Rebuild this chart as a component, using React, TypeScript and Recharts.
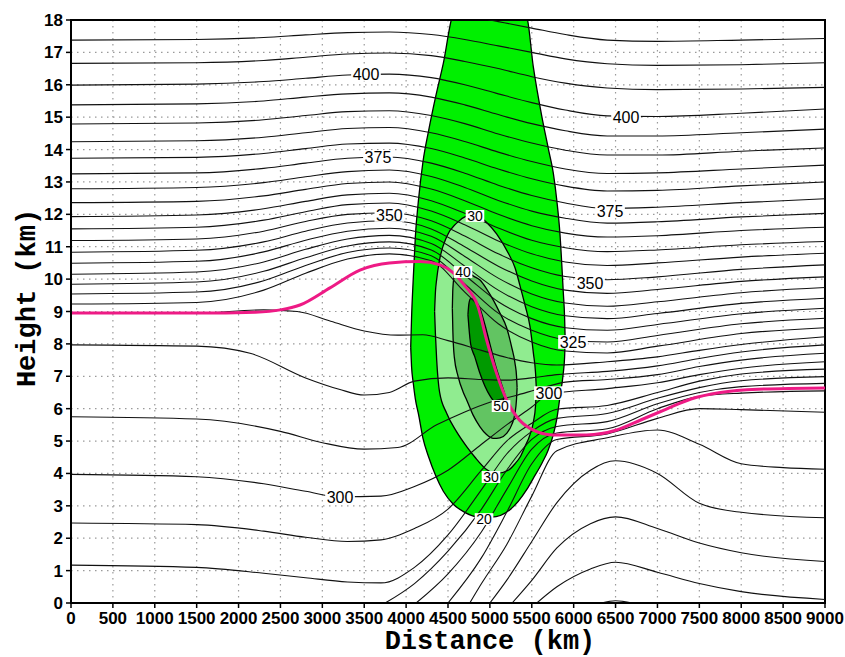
import React from 'react';
import { ComposedChart, Line, Area, Scatter, XAxis, YAxis, CartesianGrid, ReferenceArea } from 'recharts';

const X_TICKS = [0, 500, 1000, 1500, 2000, 2500, 3000, 3500, 4000, 4500, 5000, 5500, 6000, 6500, 7000, 7500, 8000, 8500, 9000];
const Y_TICKS = [0, 1, 2, 3, 4, 5, 6, 7, 8, 9, 10, 11, 12, 13, 14, 15, 16, 17, 18];

// stratospheric isentropes sampled on a common distance grid (km)
const STRAT_X = [0, 1500, 2300, 2800, 3300, 3800, 4300, 4700, 5100, 5500, 5900, 6400, 7000, 8000, 9000];
const th415 = [18.1, 18.12, 18.2, 18.28, 18.35, 18.38, 18.3, 18.15, 17.95, 17.75, 17.55, 17.38, 17.34, 17.38, 17.43];
const th410 = [17.38, 17.4, 17.46, 17.54, 17.61, 17.63, 17.55, 17.4, 17.2, 17.0, 16.8, 16.65, 16.6, 16.62, 16.68];
const th405 = [16.66, 16.68, 16.75, 16.85, 16.95, 16.98, 16.9, 16.72, 16.5, 16.25, 16.05, 15.9, 15.85, 15.87, 15.92];
const th400 = [15.99, 16.02, 16.1, 16.2, 16.3, 16.33, 16.22, 16.0, 15.72, 15.45, 15.22, 15.04, 15.02, 15.12, 15.25];
const th395 = [15.38, 15.41, 15.5, 15.62, 15.72, 15.75, 15.62, 15.38, 15.08, 14.8, 14.58, 14.42, 14.42, 14.52, 14.63];
const th390 = [14.79, 14.82, 14.92, 15.05, 15.17, 15.2, 15.05, 14.8, 14.48, 14.2, 13.98, 13.83, 13.83, 13.95, 14.05];
const th385 = [14.24, 14.27, 14.38, 14.52, 14.65, 14.68, 14.52, 14.25, 13.92, 13.63, 13.4, 13.26, 13.28, 13.4, 13.52];
const th380 = [13.73, 13.76, 13.88, 14.03, 14.17, 14.2, 14.03, 13.74, 13.4, 13.1, 12.87, 12.72, 12.74, 12.88, 13.0];
const th375 = [13.25, 13.28, 13.42, 13.58, 13.73, 13.77, 13.58, 13.27, 12.9, 12.58, 12.35, 12.18, 12.22, 12.36, 12.48];
const th370 = [12.79, 12.83, 12.98, 13.16, 13.32, 13.37, 13.17, 12.83, 12.43, 12.1, 11.88, 11.73, 11.77, 11.92, 12.03];
const th365 = [12.36, 12.4, 12.57, 12.77, 12.95, 13.0, 12.78, 12.42, 12.0, 11.65, 11.42, 11.3, 11.34, 11.5, 11.6];
const th360 = [11.93, 11.98, 12.17, 12.4, 12.6, 12.65, 12.42, 12.03, 11.58, 11.2, 10.97, 10.85, 10.9, 11.06, 11.16];
const th355 = [11.55, 11.6, 11.82, 12.08, 12.3, 12.35, 12.1, 11.68, 11.18, 10.78, 10.53, 10.42, 10.5, 10.68, 10.8];
const th350 = [11.19, 11.24, 11.48, 11.78, 12.0, 12.05, 11.8, 11.33, 10.78, 10.35, 10.08, 9.98, 10.07, 10.3, 10.44];
const th345 = [10.83, 10.89, 11.15, 11.48, 11.73, 11.8, 11.55, 11.0, 10.4, 9.94, 9.66, 9.56, 9.68, 9.93, 10.07];
const th340 = [10.49, 10.55, 10.84, 11.2, 11.48, 11.57, 11.32, 10.7, 10.03, 9.54, 9.26, 9.16, 9.3, 9.58, 9.74];
const th335 = [10.15, 10.22, 10.53, 10.92, 11.24, 11.35, 11.1, 10.4, 9.66, 9.15, 8.87, 8.78, 8.94, 9.25, 9.41];
const th330 = [9.84, 9.91, 10.24, 10.66, 11.02, 11.15, 10.9, 10.12, 9.3, 8.78, 8.5, 8.42, 8.6, 8.93, 9.1];
const th325 = [9.54, 9.6, 9.95, 10.42, 10.82, 10.96, 10.72, 9.85, 8.95, 8.42, 8.13, 8.06, 8.26, 8.62, 8.79];
const th320 = [9.23, 9.28, 9.66, 10.18, 10.62, 10.78, 10.57, 9.6, 8.62, 8.06, 7.78, 7.72, 7.93, 8.32, 8.5];

// tropospheric isentropes: [distance km, height km]
const th315 = [[0, 8.94], [1500, 8.95], [2300, 9.05], [2700, 9.0], [3100, 8.7], [3500, 8.4], [3900, 8.27], [4200, 8.28], [4500, 8.1], [4900, 7.8], [5200, 7.58], [5500, 7.42], [5800, 7.35], [6400, 7.45], [7000, 7.6], [7500, 7.8], [8000, 7.98], [9000, 8.22]];
const th310 = [[0, 7.97], [1500, 7.93], [2137, 7.71], [2800, 6.95], [3200, 6.6], [3500, 6.42], [3800, 6.5], [4100, 6.85], [4500, 6.95], [4900, 6.9], [5200, 6.88], [5500, 6.95], [5800, 7.05], [6400, 7.15], [7000, 7.32], [7500, 7.55], [8000, 7.75], [9000, 7.97]];
const th305 = [[0, 5.75], [1500, 5.68], [2500, 5.3], [3000, 4.95], [3500, 4.75], [3900, 4.8], [4365, 5.5], [4700, 5.9], [5000, 6.2], [5300, 6.4], [5600, 6.62], [5900, 6.82], [6400, 6.9], [7000, 7.05], [7500, 7.3], [8000, 7.5], [9000, 7.71]];
const th300 = [[0, 3.97], [1500, 3.9], [2300, 3.68], [2800, 3.45], [3200, 3.28], [3700, 3.3], [4100, 3.6], [4500, 4.1], [4900, 4.9], [5200, 5.5], [5500, 6.05], [5705, 6.45], [6400, 6.62], [7000, 6.8], [7500, 7.05], [8000, 7.25], [9000, 7.45]];
const th295 = [[0, 2.47], [1500, 2.42], [2300, 2.22], [2800, 2.03], [3300, 1.9], [3700, 1.95], [4100, 2.3], [4500, 2.9], [4900, 4.1], [5200, 5.0], [5500, 5.55], [5800, 5.98], [6400, 6.1], [7000, 6.5], [7500, 6.85], [8000, 7.07], [9000, 7.22]];
const th290 = [[0, 1.17], [1500, 1.1], [2300, 0.92], [2800, 0.78], [3300, 0.65], [3700, 0.62], [4100, 1.1], [4500, 2.1], [4900, 3.5], [5200, 4.6], [5500, 5.3], [5800, 5.7], [6400, 5.85], [7000, 6.32], [7500, 6.65], [8000, 6.86], [9000, 6.99]];
const th285 = [[3750, 0], [4100, 0.6], [4500, 1.6], [4900, 2.9], [5200, 4.1], [5500, 5.05], [5800, 5.45], [6400, 5.6], [7000, 6.15], [7500, 6.5], [8000, 6.68], [9000, 6.78]];
const th280 = [[4120, 0], [4500, 0.9], [4900, 2.2], [5200, 3.5], [5500, 4.75], [5800, 5.25], [6400, 5.38], [7000, 6.0], [7500, 6.38], [8000, 6.48], [9000, 6.55]];
const th275 = [[4500, 0], [4900, 1.4], [5200, 2.8], [5500, 4.3], [5800, 5.05], [6400, 5.22], [7000, 5.7], [7500, 6.0], [8000, 5.97], [9000, 5.89]];
const th270 = [[4760, 0], [4900, 0.6], [5200, 1.8], [5500, 3.3], [5800, 4.7], [6400, 5.1], [7000, 5.34], [7500, 4.9], [8000, 4.3], [8500, 4.18], [9000, 4.13]];
const th265 = [[5000, 0], [5200, 0.7], [5500, 1.9], [5800, 3.1], [6200, 4.1], [6500, 4.39], [7000, 4.0], [7500, 3.08], [8000, 2.8], [9000, 2.63]];
const th260 = [[5265, 0], [5500, 0.7], [5800, 1.7], [6200, 2.45], [6500, 2.66], [7000, 2.3], [7500, 1.85], [8000, 1.55], [9000, 1.28]];
const th255 = [[5560, 0], [5800, 0.5], [6200, 1.05], [6500, 1.26], [7000, 0.95], [7500, 0.6], [8000, 0.35], [9000, 0.11]];
const th250 = [[6330, 0], [6500, 0.07], [6700, 0]];

// dynamic tropopause (magenta)
const tropopause = [[0, 8.95], [1500, 8.95], [2200, 8.98], [2500, 9.05], [2733, 9.2], [3091, 9.73], [3449, 10.28], [3800, 10.5], [4166, 10.54], [4404, 10.44], [4560, 10.2], [4700, 9.8], [4858, 9.15], [4961, 8.12], [5080, 7.09], [5200, 6.27], [5320, 5.75], [5479, 5.39], [5753, 5.19], [6155, 5.19], [6514, 5.34], [6800, 5.65], [7100, 5.98], [7400, 6.3], [7750, 6.5], [8200, 6.6], [9000, 6.64]];

// wind speed shading: [distance, lower height, upper height]
const jet20 = [[4055, 7.9, 7.9], [4065, 7.3, 8.8], [4085, 6.8, 10.0], [4110, 6.3, 11.3], [4150, 5.8, 12.5], [4200, 5.1, 13.6], [4270, 4.5, 14.6], [4350, 3.95, 15.6], [4444, 3.45, 16.66], [4563, 3.05, 18.2], [4700, 2.8, 18.5], [4850, 2.66, 18.5], [5020, 2.65, 18.5], [5240, 2.88, 18.5], [5439, 3.5, 18.1], [5518, 3.85, 16.56], [5618, 4.3, 15.05], [5700, 4.75, 14.0], [5757, 5.2, 13.27], [5800, 5.7, 12.4], [5836, 6.35, 11.41], [5876, 7.1, 9.6], [5892, 7.6, 8.8], [5898, 8.2, 8.2]];
const jet30 = [[4340, 9.0, 9.0], [4350, 8.3, 9.6], [4365, 7.5, 10.0], [4400, 6.5, 10.6], [4484, 5.86, 11.31], [4600, 5.3, 11.72], [4723, 4.83, 11.95], [4822, 4.5, 12.0], [4961, 4.12, 11.75], [5080, 4.0, 11.4], [5220, 4.1, 10.8], [5300, 4.3, 10.35], [5359, 4.5, 9.8], [5419, 4.83, 9.2], [5479, 5.2, 8.53], [5520, 5.6, 7.7], [5545, 6.1, 7.1], [5555, 6.6, 6.6]];
const jet40 = [[4552, 9.1, 9.1], [4558, 8.4, 9.7], [4575, 7.6, 10.1], [4620, 7.0, 10.3], [4683, 6.5, 10.33], [4723, 6.27, 10.25], [4800, 5.8, 10.1], [4882, 5.44, 9.97], [4960, 5.2, 9.7], [5041, 5.08, 9.35], [5120, 5.1, 8.95], [5200, 5.24, 8.5], [5260, 5.5, 7.9], [5300, 5.86, 7.4], [5318, 6.3, 7.0], [5325, 6.65, 6.65]];
const jet50 = [[4738, 8.9, 8.9], [4750, 8.5, 9.25], [4770, 8.0, 9.4], [4820, 7.6, 9.35], [4880, 7.1, 9.1], [4940, 6.7, 8.6], [5000, 6.4, 8.0], [5060, 6.2, 7.4], [5120, 6.15, 6.9], [5165, 6.3, 6.55], [5180, 6.42, 6.42]];

// contour labels: [distance, height, text]
const thetaLabels = [[3521, 16.33, '400'], [3664, 13.77, '375'], [3800, 11.98, '350'], [3211, 3.27, '300'], [6625, 15.0, '400'], [6434, 12.1, '375'], [6195, 9.88, '350'], [5992, 8.06, '325'], [5705, 6.48, '300']];
const windLabels = [[4822, 11.95, '30'], [4679, 10.22, '40'], [5133, 6.08, '50'], [5013, 3.89, '30'], [4930, 2.59, '20']];

const stratLines = [th415, th410, th405, th400, th395, th390, th385, th380, th375, th370, th365, th360, th355, th350, th345, th340, th335, th330, th325, th320];
const tropLines = [th315, th310, th305, th300, th295, th290, th285, th280, th275, th270, th265, th260, th255, th250];

const fromGrid = (ys: number[]) => ys.map((y, i) => ({ x: STRAT_X[i], y }));
const fromPairs = (p: number[][]) => p.map(([x, y]) => ({ x, y }));
const fromRange = (p: number[][]) => p.map(([x, lo, hi]) => ({ x, r: [lo, hi] }));

const isentropes = [...stratLines.map(fromGrid), ...tropLines.map(fromPairs)];

const makeLabel = (fontSize: number, charW: number) => (props: any) => {
  const { cx, cy, payload } = props;
  if (cx == null || cy == null) return null;
  const w = payload.text.length * charW + 3;
  const h = fontSize * 0.85;
  return (
    <g>
      <rect x={cx - w / 2} y={cy - h / 2} width={w} height={h} fill="#ffffff" />
      <text x={cx} y={cy} dy="0.36em" textAnchor="middle" fontSize={fontSize} fontFamily="'Liberation Sans', Arial, sans-serif" fill="#000">
        {payload.text}
      </text>
    </g>
  );
};
const ThetaLabel = makeLabel(16, 8.9);
const WindLabel = makeLabel(14, 7.8);

const tickFont = "'Liberation Sans Narrow', 'Liberation Sans', Arial, sans-serif";

export default function App() {
  const labelData1 = thetaLabels.map(([x, y, t]) => ({ x, y, text: t }));
  const labelData2 = windLabels.map(([x, y, t]) => ({ x, y, text: t }));
  return (
    <div style={{ position: 'absolute', left: 0, top: 0, width: 845, height: 657, background: '#fff' }}>
      <ComposedChart width={845} height={657} margin={{ top: 20, right: 20, bottom: 24, left: 11 }}>
        <XAxis
          type="number"
          dataKey="x"
          domain={[0, 9000]}
          ticks={X_TICKS}
          allowDataOverflow
          interval={0}
          tickSize={5}
          tickMargin={4}
          height={30}
          stroke="#000"
          axisLine={{ stroke: '#000', strokeWidth: 2 }}
          tickLine={{ stroke: '#000', strokeWidth: 1.5 }}
          tick={{ fontSize: 17, fontWeight: 700, fontFamily: tickFont, fill: '#000' }}
        />
        <YAxis
          type="number"
          dataKey="y"
          domain={[0, 18]}
          ticks={Y_TICKS}
          allowDataOverflow
          interval={0}
          width={60}
          tickSize={5}
          tickMargin={3}
          stroke="#000"
          axisLine={{ stroke: '#000', strokeWidth: 2 }}
          tickLine={{ stroke: '#000', strokeWidth: 1.5 }}
          tick={{ fontSize: 17, fontWeight: 700, fontFamily: tickFont, fill: '#000' }}
        />
        <CartesianGrid stroke="#9a9a9a" strokeDasharray="1.5 4.5" strokeWidth={1.2} />
        <Area data={fromRange(jet20)} dataKey="r" type="monotone" fill="#00F000" fillOpacity={1} stroke="#000" strokeWidth={1.3} isAnimationActive={false} />
        <Area data={fromRange(jet30)} dataKey="r" type="monotone" fill="#90EC90" fillOpacity={1} stroke="#000" strokeWidth={1.3} isAnimationActive={false} />
        <Area data={fromRange(jet40)} dataKey="r" type="monotone" fill="#62C462" fillOpacity={1} stroke="#000" strokeWidth={1.3} isAnimationActive={false} />
        <Area data={fromRange(jet50)} dataKey="r" type="monotone" fill="#009A00" fillOpacity={1} stroke="#000" strokeWidth={1.3} isAnimationActive={false} />
        {isentropes.map((d, i) => (
          <Line key={'th' + i} data={d} dataKey="y" type="monotone" stroke="#111" strokeWidth={1.1} dot={false} activeDot={false} isAnimationActive={false} />
        ))}
        <Line data={fromPairs(tropopause)} dataKey="y" type="monotone" stroke="#EE1A85" strokeWidth={3} dot={false} activeDot={false} isAnimationActive={false} />
        <Scatter data={labelData2} dataKey="y" shape={WindLabel} isAnimationActive={false} />
        <Scatter data={labelData1} dataKey="y" shape={ThetaLabel} isAnimationActive={false} />
        <ReferenceArea x1={0} x2={9000} y1={0} y2={18} fill="none" stroke="#000" strokeWidth={2} ifOverflow="visible" />
      </ComposedChart>
      <div style={{ position: 'absolute', left: 0, top: 627, width: 845, paddingLeft: 135, boxSizing: 'border-box', textAlign: 'center', fontFamily: "'Liberation Mono', 'Courier New', monospace", fontWeight: 700, fontSize: 27, lineHeight: '30px', color: '#000' }}>
        Distance (km)
      </div>
      <div style={{ position: 'absolute', left: 28, top: 298, transform: 'translate(-50%, -50%) rotate(-90deg)', whiteSpace: 'nowrap', fontFamily: "'Liberation Mono', 'Courier New', monospace", fontWeight: 700, fontSize: 27, lineHeight: '30px', color: '#000' }}>
        Height (km)
      </div>
    </div>
  );
}
